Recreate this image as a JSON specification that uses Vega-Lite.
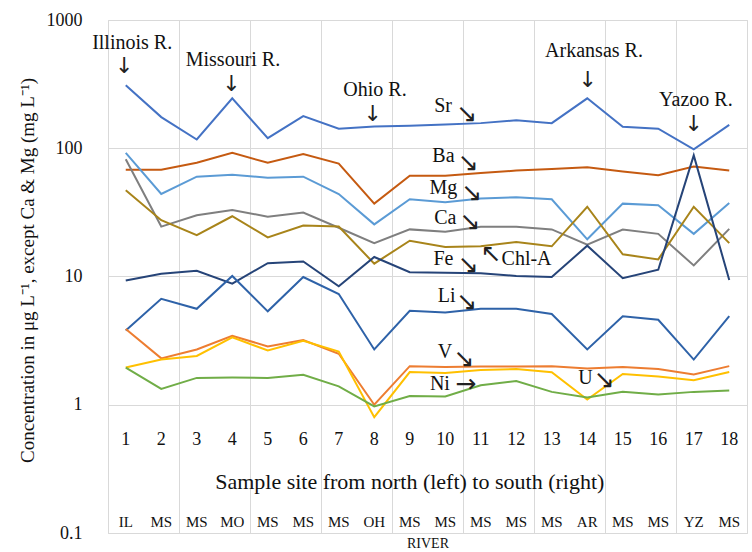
{
  "$schema": "https://vega.github.io/schema/vega-lite/v6.json",
  "width": 639,
  "height": 513,
  "autosize": "none",
  "padding": {"left": 108, "top": 20, "right": 5, "bottom": 19},
  "background": "white",
  "config": {
    "view": {"stroke": "#d9d9d9", "strokeWidth": 1},
    "font": "Liberation Serif, serif",
    "axis": {"gridColor": "#d9d9d9", "gridWidth": 1, "domain": false, "ticks": false, "labelFont": "Liberation Serif, serif", "titleFont": "Liberation Serif, serif", "labelColor": "#111", "titleColor": "#111", "titleFontWeight": "normal"}
  },
  "datasets": {
    "sites": [
      {"site": 1, "river": "IL", "Sr": 310, "Ba": 68, "Mg": 92, "Ca": 82, "ChlA": 47, "Fe": 9.3, "Li": 3.8, "V": 3.9, "U": 1.95, "Ni": 1.95},
      {"site": 2, "river": "MS", "Sr": 175, "Ba": 68, "Mg": 44, "Ca": 24.5, "ChlA": 27.5, "Fe": 10.5, "Li": 6.7, "V": 2.3, "U": 2.25, "Ni": 1.33},
      {"site": 3, "river": "MS", "Sr": 117, "Ba": 77, "Mg": 60, "Ca": 30, "ChlA": 21, "Fe": 11.1, "Li": 5.6, "V": 2.7, "U": 2.4, "Ni": 1.62},
      {"site": 4, "river": "MO", "Sr": 245, "Ba": 92, "Mg": 62, "Ca": 33, "ChlA": 29.5, "Fe": 8.8, "Li": 10.1, "V": 3.45, "U": 3.35, "Ni": 1.63},
      {"site": 5, "river": "MS", "Sr": 120, "Ba": 77, "Mg": 59, "Ca": 29.3, "ChlA": 20.2, "Fe": 12.7, "Li": 5.35, "V": 2.85, "U": 2.65, "Ni": 1.62},
      {"site": 6, "river": "MS", "Sr": 178, "Ba": 90, "Mg": 60, "Ca": 31.5, "ChlA": 25, "Fe": 13.1, "Li": 9.9, "V": 3.2, "U": 3.15, "Ni": 1.71},
      {"site": 7, "river": "MS", "Sr": 142, "Ba": 76, "Mg": 44, "Ca": 24, "ChlA": 24.5, "Fe": 8.4, "Li": 7.3, "V": 2.5, "U": 2.6, "Ni": 1.39},
      {"site": 8, "river": "OH", "Sr": 148, "Ba": 37, "Mg": 25.5, "Ca": 18.2, "ChlA": 12.6, "Fe": 14.2, "Li": 2.7, "V": 1.0, "U": 0.8, "Ni": 0.97},
      {"site": 9, "river": "MS", "Sr": 150, "Ba": 61, "Mg": 40, "Ca": 23.3, "ChlA": 19, "Fe": 10.8, "Li": 5.4, "V": 2.0, "U": 1.8, "Ni": 1.17},
      {"site": 10, "river": "MS", "Sr": 153, "Ba": 61, "Mg": 38, "Ca": 22.3, "ChlA": 17, "Fe": 10.7, "Li": 5.25, "V": 1.97, "U": 1.77, "Ni": 1.16},
      {"site": 11, "river": "MS", "Sr": 157, "Ba": 64, "Mg": 40.5, "Ca": 24.4, "ChlA": 17.2, "Fe": 10.6, "Li": 5.6, "V": 1.99, "U": 1.87, "Ni": 1.42},
      {"site": 12, "river": "MS", "Sr": 165, "Ba": 67, "Mg": 41.5, "Ca": 24.4, "ChlA": 18.6, "Fe": 10.1, "Li": 5.6, "V": 1.99, "U": 1.9, "Ni": 1.53},
      {"site": 13, "river": "MS", "Sr": 157, "Ba": 69, "Mg": 40, "Ca": 23.3, "ChlA": 17.2, "Fe": 9.9, "Li": 5.1, "V": 2.0, "U": 1.79, "Ni": 1.26},
      {"site": 14, "river": "AR", "Sr": 245, "Ba": 71, "Mg": 19.5, "Ca": 17.7, "ChlA": 35, "Fe": 17.4, "Li": 2.7, "V": 1.92, "U": 1.1, "Ni": 1.14},
      {"site": 15, "river": "MS", "Sr": 147, "Ba": 66, "Mg": 37, "Ca": 23.2, "ChlA": 14.9, "Fe": 9.7, "Li": 4.9, "V": 1.97, "U": 1.74, "Ni": 1.26},
      {"site": 16, "river": "MS", "Sr": 142, "Ba": 61.5, "Mg": 36, "Ca": 21.5, "ChlA": 13.6, "Fe": 11.3, "Li": 4.6, "V": 1.9, "U": 1.66, "Ni": 1.2},
      {"site": 17, "river": "YZ", "Sr": 98, "Ba": 72, "Mg": 21.5, "Ca": 12.2, "ChlA": 35, "Fe": 88, "Li": 2.25, "V": 1.72, "U": 1.55, "Ni": 1.26},
      {"site": 18, "river": "MS", "Sr": 152, "Ba": 67, "Mg": 37.5, "Ca": 23.5, "ChlA": 18.2, "Fe": 9.4, "Li": 4.9, "V": 2.0, "U": 1.8, "Ni": 1.29}
    ],
    "notes": [
      {"kind": "river", "label": "Illinois R.", "x": 1.18, "y": 660},
      {"kind": "river", "label": "Missouri R.", "x": 4.02, "y": 485},
      {"kind": "river", "label": "Ohio R.", "x": 8.02, "y": 283},
      {"kind": "river", "label": "Arkansas R.", "x": 14.19, "y": 570},
      {"kind": "river", "label": "Yazoo R.", "x": 17.06, "y": 237},
      {"kind": "elem", "label": "Sr", "x": 9.94, "y": 213},
      {"kind": "elem", "label": "Ba", "x": 9.95, "y": 87},
      {"kind": "elem", "label": "Mg", "x": 9.95, "y": 49.3},
      {"kind": "elem", "label": "Ca", "x": 10.0, "y": 28.8},
      {"kind": "elem", "label": "Fe", "x": 9.95, "y": 13.6},
      {"kind": "elem", "label": "Chl-A", "x": 12.29, "y": 13.6},
      {"kind": "elem", "label": "Li", "x": 10.04, "y": 7.0},
      {"kind": "elem", "label": "V", "x": 9.99, "y": 2.56},
      {"kind": "elem", "label": "Ni", "x": 9.85, "y": 1.46},
      {"kind": "elem", "label": "U", "x": 13.95, "y": 1.62},
      {"kind": "down", "label": "↓", "x": 0.96, "y": 440},
      {"kind": "down", "label": "↓", "x": 3.98, "y": 318},
      {"kind": "down", "label": "↓", "x": 7.96, "y": 186},
      {"kind": "down", "label": "↓", "x": 14.01, "y": 342},
      {"kind": "down", "label": "↓", "x": 17.0, "y": 155},
      {"kind": "arrow", "label": "↘", "x": 10.6, "y": 186},
      {"kind": "arrow", "label": "↘", "x": 10.64, "y": 76.5},
      {"kind": "arrow", "label": "↘", "x": 10.74, "y": 45},
      {"kind": "arrow", "label": "↘", "x": 10.69, "y": 26.6},
      {"kind": "arrow", "label": "↘", "x": 10.64, "y": 12.2},
      {"kind": "arrow", "label": "↖", "x": 11.28, "y": 15.1},
      {"kind": "arrow", "label": "↘", "x": 10.6, "y": 6.3},
      {"kind": "arrow", "label": "↘", "x": 10.52, "y": 2.28},
      {"kind": "arrow", "label": "→", "x": 10.58, "y": 1.46},
      {"kind": "arrow", "label": "↘", "x": 14.47, "y": 1.57}
    ]
  },
  "layer": [
    {
      "data": {"name": "sites"},
      "transform": [{"fold": ["Sr", "Ba", "Mg", "Ca", "ChlA", "Fe", "Li", "V", "U", "Ni"], "as": ["element", "value"]}],
      "mark": {"type": "line", "strokeWidth": 2},
      "encoding": {
        "x": {"field": "site", "type": "quantitative", "scale": {"domain": [0.5, 18.5], "nice": false, "zero": false},
              "axis": {"values": [0.5,1.5,2.5,3.5,4.5,5.5,6.5,7.5,8.5,9.5,10.5,11.5,12.5,13.5,14.5,15.5,16.5,17.5,18.5], "labels": false, "grid": true, "title": "RIVER", "titleFontSize": 14, "titlePadding": 3}},
        "y": {"field": "value", "type": "quantitative", "scale": {"type": "log", "domain": [0.1, 1000], "nice": false},
              "axis": {"values": [0.1, 1, 10, 100, 1000], "labelExpr": "datum.value + ''", "labelFontSize": 18, "labelPadding": 26, "grid": true,
                       "title": "Concentration in μg L⁻¹, except Ca & Mg (mg L⁻¹)", "titleFontSize": 19, "titleX": -81, "titleY": 250, "titleAngle": -90, "titleAlign": "center", "titleBaseline": "middle"}},
        "color": {"field": "element", "type": "nominal", "legend": null,
                  "scale": {"domain": ["Sr", "Ba", "Mg", "Ca", "ChlA", "Fe", "Li", "V", "U", "Ni"],
                            "range": ["#4472C4", "#C55A11", "#5B9BD5", "#7F7F7F", "#A8841A", "#264478", "#2E62A8", "#ED7D31", "#FFC000", "#70AD47"]}}
      }
    },
    {
      "data": {"name": "sites"},
      "mark": {"type": "text", "fontSize": 18, "color": "#111", "baseline": "middle"},
      "encoding": {
        "x": {"field": "site", "type": "quantitative"},
        "y": {"datum": 0.53, "type": "quantitative"},
        "text": {"field": "site", "type": "quantitative"}
      }
    },
    {
      "data": {"name": "sites"},
      "mark": {"type": "text", "fontSize": 15, "color": "#111", "baseline": "middle"},
      "encoding": {
        "x": {"field": "site", "type": "quantitative"},
        "y": {"datum": 0.122, "type": "quantitative"},
        "text": {"field": "river", "type": "nominal"}
      }
    },
    {
      "data": {"values": [{"label": "Sample site from north (left) to south (right)"}]},
      "mark": {"type": "text", "fontSize": 22, "color": "#111", "baseline": "middle"},
      "encoding": {
        "x": {"datum": 9, "type": "quantitative"},
        "y": {"datum": 0.25, "type": "quantitative"},
        "text": {"field": "label", "type": "nominal"}
      }
    },
    {
      "data": {"name": "notes"},
      "transform": [{"filter": "datum.kind === 'river' || datum.kind === 'elem'"}],
      "mark": {"type": "text", "fontSize": 20, "color": "#111", "baseline": "middle"},
      "encoding": {
        "x": {"field": "x", "type": "quantitative"},
        "y": {"field": "y", "type": "quantitative"},
        "text": {"field": "label", "type": "nominal"}
      }
    },
    {
      "data": {"name": "notes"},
      "transform": [{"filter": "datum.kind === 'down'"}],
      "mark": {"type": "text", "fontSize": 22, "font": "DejaVu Sans", "color": "#222", "baseline": "middle"},
      "encoding": {
        "x": {"field": "x", "type": "quantitative"},
        "y": {"field": "y", "type": "quantitative"},
        "text": {"field": "label", "type": "nominal"}
      }
    },
    {
      "data": {"name": "notes"},
      "transform": [{"filter": "datum.kind === 'arrow'"}],
      "mark": {"type": "text", "fontSize": 25, "font": "DejaVu Sans", "color": "#222", "baseline": "middle"},
      "encoding": {
        "x": {"field": "x", "type": "quantitative"},
        "y": {"field": "y", "type": "quantitative"},
        "text": {"field": "label", "type": "nominal"}
      }
    }
  ]
}
